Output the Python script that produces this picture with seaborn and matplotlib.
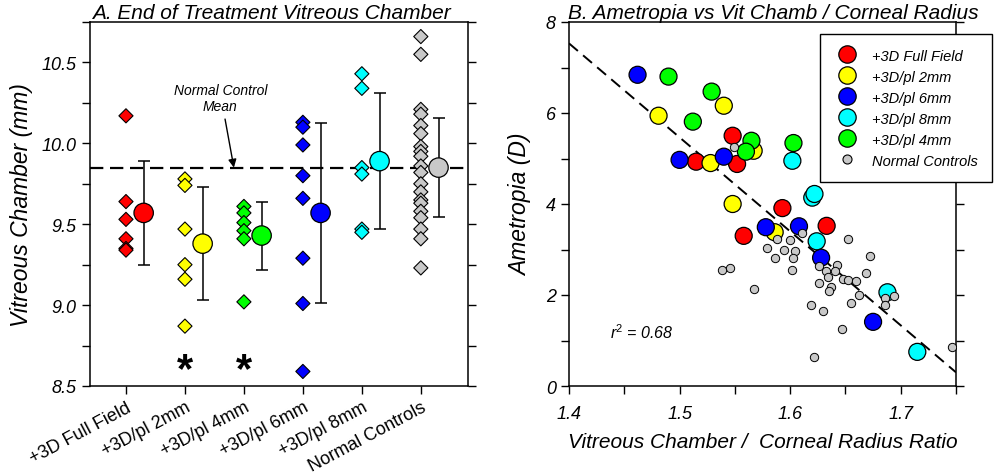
import matplotlib
matplotlib.use("Agg")
import matplotlib.pyplot as plt
import seaborn as sns
import pandas as pd
from matplotlib.ticker import MultipleLocator, FixedLocator
from matplotlib.lines import Line2D

# ---------------- Panel A data ----------------
groups = ["+3D Full Field", "+3D/pl 2mm", "+3D/pl 4mm", "+3D/pl 6mm", "+3D/pl 8mm", "Normal Controls"]
group_colors = ["#FF0000", "#FFFF00", "#00FF00", "#0000FF", "#00FFFF", "#C8C8C8"]

vc_full_field = [10.17, 9.64, 9.53, 9.41, 9.35, 9.34]
vc_2mm = [9.78, 9.74, 9.47, 9.25, 9.16, 8.87]
vc_4mm = [9.61, 9.57, 9.51, 9.46, 9.41, 9.02]
vc_6mm = [10.13, 10.10, 9.99, 9.80, 9.66, 9.29, 9.01, 8.59]
vc_8mm = [10.43, 10.34, 9.85, 9.81, 9.47, 9.45]
vc_controls = [10.66, 10.55, 10.21, 10.18, 10.11, 10.06, 9.98, 9.95, 9.92, 9.86,
               9.82, 9.75, 9.70, 9.65, 9.63, 9.58, 9.54, 9.47, 9.41, 9.23]

group_means = [9.57, 9.38, 9.43, 9.57, 9.89, 9.85]
group_sds = [0.32, 0.35, 0.21, 0.555, 0.42, 0.305]
control_mean = 9.85
significant_groups = ["+3D/pl 2mm", "+3D/pl 4mm"]
yticks_a = [8.5, 9.0, 9.5, 10.0, 10.5]

# ---------------- Panel B data ----------------
legend_order = ["+3D Full Field", "+3D/pl 2mm", "+3D/pl 6mm", "+3D/pl 8mm", "+3D/pl 4mm"]
ratio_full_field = [1.548, 1.515, 1.552, 1.558, 1.593, 1.633]
amet_full_field = [5.50, 4.93, 4.88, 3.30, 3.91, 3.52]
ratio_2mm = [1.540, 1.481, 1.567, 1.528, 1.548, 1.586]
amet_2mm = [6.16, 5.94, 5.17, 4.90, 4.00, 3.38]
ratio_6mm = [1.462, 1.500, 1.540, 1.578, 1.608, 1.628, 1.675]
amet_6mm = [6.84, 4.97, 5.04, 3.49, 3.51, 2.82, 1.41]
ratio_8mm = [1.602, 1.620, 1.622, 1.624, 1.688, 1.715]
amet_8mm = [4.95, 4.14, 4.22, 3.18, 2.06, 0.75]
ratio_4mm = [1.490, 1.529, 1.512, 1.565, 1.560, 1.603]
amet_4mm = [6.80, 6.47, 5.81, 5.39, 5.15, 5.34]
ratio_controls = [1.549, 1.611, 1.588, 1.600, 1.652, 1.579, 1.594, 1.604, 1.586, 1.603,
                  1.672, 1.546, 1.538, 1.602, 1.642, 1.626, 1.632, 1.641, 1.634, 1.669,
                  1.648, 1.652, 1.660, 1.626, 1.637, 1.635, 1.662, 1.567, 1.619, 1.655,
                  1.630, 1.647, 1.622, 1.686, 1.694, 1.686, 1.746]
amet_controls = [5.26, 3.36, 3.23, 3.20, 3.23, 3.04, 2.98, 2.96, 2.82, 2.82,
                 2.86, 2.60, 2.54, 2.54, 2.67, 2.64, 2.53, 2.52, 2.39, 2.49,
                 2.36, 2.32, 2.30, 2.26, 2.17, 2.08, 2.00, 2.14, 1.78, 1.83,
                 1.64, 1.26, 0.63, 1.93, 1.98, 1.78, 0.85]
fit_x = [1.40, 1.75]
fit_y = [7.53, 0.30]
r_squared = "0.68"

# ---------------- style ----------------
sns.set_theme(style="ticks", rc={"axes.edgecolor": "black", "xtick.color": "black",
                                 "ytick.color": "black", "axes.linewidth": 1.1,
                                 "text.color": "black", "axes.labelcolor": "black"})
plt.rcParams['font.family'] = ['Liberation Sans', 'DejaVu Sans']
plt.rcParams['mathtext.fontset'] = 'custom'
plt.rcParams['mathtext.rm'] = 'Liberation Sans'
plt.rcParams['mathtext.it'] = 'Liberation Sans:italic'

palette = dict(zip(groups, group_colors))
fig = plt.figure(figsize=(9.96, 4.77), dpi=100)
ax1 = fig.add_axes([90 / 996, 1 - 387 / 477, 378 / 996, 364 / 477])
ax2 = fig.add_axes([569 / 996, 1 - 387 / 477, 387 / 996, 364 / 477])

# ---------------- Panel A ----------------
values = [vc_full_field, vc_2mm, vc_4mm, vc_6mm, vc_8mm, vc_controls]
rows = []
for i, (g, vals) in enumerate(zip(groups, values)):
    for v in vals:
        rows.append({"group": g, "pos": i, "vc": v})
df_a = pd.DataFrame(rows)
df_m = pd.DataFrame({"group": groups, "pos": [i + 0.3 for i in range(len(groups))],
                     "mean": group_means, "sd": group_sds})

ax1.axhline(control_mean, color="black", lw=1.6, dashes=(6, 3), zorder=1)
sns.scatterplot(data=df_a, x="pos", y="vc", hue="group", palette=palette, marker="D",
                s=52, edgecolor="black", linewidth=0.8, legend=False, ax=ax1, zorder=3)
ax1.errorbar(df_m["pos"], df_m["mean"], yerr=df_m["sd"], fmt="none", ecolor="black",
             elinewidth=1.1, capsize=4, capthick=1.1, zorder=2)
sns.scatterplot(data=df_m, x="pos", y="mean", hue="group", palette=palette, marker="o",
                s=195, edgecolor="black", linewidth=0.9, legend=False, ax=ax1, zorder=4)
for g in significant_groups:
    ax1.text(groups.index(g), 8.6, "*", ha="center", va="center", fontsize=30,
             fontweight="bold", color="black")
ax1.text(1.6, 10.28, "Normal Control\nMean", ha="center", va="center", fontsize=10,
         style="italic", linespacing=1.15)
ax1.annotate("", xy=(1.83, control_mean), xytext=(1.68, 10.15),
             arrowprops=dict(arrowstyle="-|>", color="black", lw=1, mutation_scale=12,
                             shrinkA=0, shrinkB=0))

ax1.set_xlim(-0.61, 5.8)
ax1.set_ylim(8.5, 10.75)
ax1.set_xticks(range(len(groups)))
ax1.set_xticklabels(groups, rotation=28, ha="right", rotation_mode="anchor", fontsize=13)
ax1.yaxis.set_major_locator(FixedLocator(yticks_a))
ax1.yaxis.set_minor_locator(MultipleLocator(0.25))
ax1.set_yticklabels([f"{t:.1f}" for t in yticks_a], fontsize=13, style="italic")
ax1.tick_params(axis="y", which="both", direction="out", left=True, right=True,
                length=6, width=1)
ax1.tick_params(axis="x", which="both", direction="out", bottom=True, top=False,
                length=6, width=1, pad=3)
ax1.set_xlabel("")
ax1.set_ylabel("Vitreous Chamber (mm)", fontsize=16.5, style="italic", labelpad=6)
ax1.set_title("A. End of Treatment Vitreous Chamber", fontsize=15, style="italic", pad=3,
              x=0.479)

# ---------------- Panel B ----------------
ratios = {"+3D Full Field": ratio_full_field, "+3D/pl 2mm": ratio_2mm, "+3D/pl 6mm": ratio_6mm,
          "+3D/pl 8mm": ratio_8mm, "+3D/pl 4mm": ratio_4mm}
amets = {"+3D Full Field": amet_full_field, "+3D/pl 2mm": amet_2mm, "+3D/pl 6mm": amet_6mm,
         "+3D/pl 8mm": amet_8mm, "+3D/pl 4mm": amet_4mm}
rows = []
for g in legend_order:
    for x, y in zip(ratios[g], amets[g]):
        rows.append({"group": g, "ratio": x, "amet": y})
df_b = pd.DataFrame(rows)
df_c = pd.DataFrame({"ratio": ratio_controls, "amet": amet_controls})

sns.lineplot(x=fit_x, y=fit_y, color="black", lw=1.4, dashes=False, ax=ax2, zorder=1)
ax2.lines[-1].set_dashes((6, 3.5))
sns.scatterplot(data=df_b, x="ratio", y="amet", hue="group", palette=palette,
                hue_order=legend_order, s=150, edgecolor="black", linewidth=0.9,
                legend=False, ax=ax2, zorder=3)
sns.scatterplot(data=df_c, x="ratio", y="amet", color=palette["Normal Controls"], s=36,
                edgecolor="black", linewidth=0.7, legend=False, ax=ax2, zorder=4)
ax2.text(1.437, 1.2, r"r$^{2}$ = " + r_squared, fontsize=11.5, style="italic",
         ha="left", va="center")

ax2.set_xlim(1.4, 1.75)
ax2.set_ylim(0, 8)
ax2.xaxis.set_major_locator(MultipleLocator(0.1))
ax2.xaxis.set_minor_locator(MultipleLocator(0.05))
ax2.yaxis.set_major_locator(MultipleLocator(2))
ax2.yaxis.set_minor_locator(MultipleLocator(1))
for lab in ax2.get_xticklabels() + ax2.get_yticklabels():
    lab.set_fontstyle("italic")
    lab.set_fontsize(13)
ax2.tick_params(axis="both", which="both", direction="out", length=6, width=1)
ax2.tick_params(axis="y", which="both", right=True)
ax2.tick_params(axis="x", pad=8)
ax2.set_xlabel("Vitreous Chamber /  Corneal Radius Ratio", fontsize=15, style="italic",
               labelpad=7)
ax2.set_ylabel("Ametropia (D)", fontsize=16.5, style="italic", labelpad=10)
ax2.set_title("B. Ametropia vs Vit Chamb / Corneal Radius", fontsize=15, style="italic", pad=3,
              x=0.527)

handles = [Line2D([], [], ls="none", marker="o", markersize=12.5, markerfacecolor=palette[g],
                  markeredgecolor="black", markeredgewidth=0.9) for g in legend_order]
handles.append(Line2D([], [], ls="none", marker="o", markersize=6.5,
                      markerfacecolor=palette["Normal Controls"], markeredgecolor="black",
                      markeredgewidth=0.8))
labels = legend_order + ["Normal Controls"]
leg = fig.legend(handles, labels, loc="upper right", bbox_to_anchor=(992 / 996, 1 - 35 / 477),
                 bbox_transform=fig.transFigure, frameon=True, fancybox=False,
                 edgecolor="black", framealpha=1, borderpad=1.0, borderaxespad=0,
                 handlelength=1.7, handletextpad=0.86, labelspacing=0.48,
                 prop={"size": 10.5, "style": "italic"})
leg.get_frame().set_linewidth(1)

fig.savefig("out.png", dpi=100)
